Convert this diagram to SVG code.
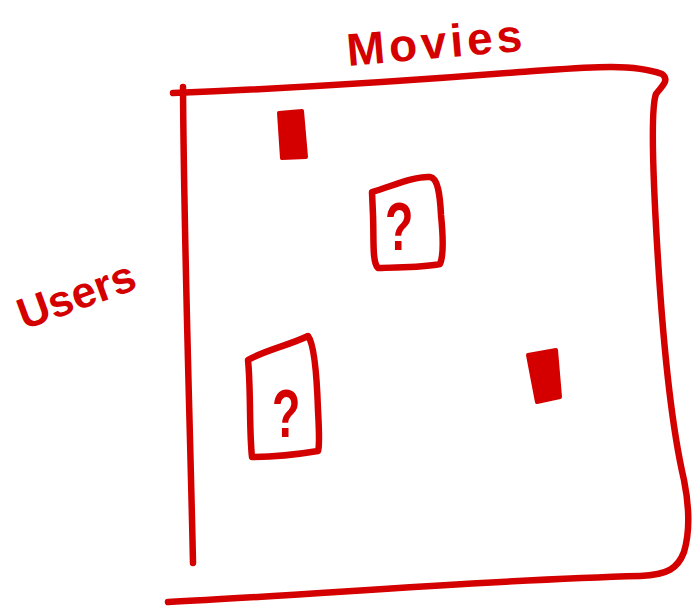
<svg xmlns="http://www.w3.org/2000/svg" width="692" height="608" viewBox="0 0 692 608">
<style>
.ink{fill:none;stroke:#d40000;stroke-width:6.5;stroke-linecap:round;stroke-linejoin:round}
.blob{fill:#d40000;stroke:#d40000;stroke-width:4;stroke-linejoin:round}
.hand{fill:#d40000;font-family:"Liberation Sans",Arial,sans-serif;font-weight:bold}
</style>
<rect width="692" height="608" fill="#fff"/>
<g id="labels">
<text class="hand" transform="translate(348,66) rotate(-5)" font-size="46" letter-spacing="4">Movies</text>
<text class="hand" transform="translate(24,330) rotate(-20)" font-size="44">Users</text>
</g>
<g id="frame">
<path class="ink" d="M183,87 C184,250 190,420 193,563"/>
<path class="ink" d="M173,93 C300,88 420,80 520,72 C580,68 630,62 662,74 C670,80 662,86 656,94 C650,110 653,180 658,260 C663,340 670,420 684,480 C690,510 689,535 684,552 C678,568 668,575 640,576 C480,580 300,596 168,602"/>
</g>
<g id="filled1"><path class="blob" d="M279,113 L302,111 L306,157 L282,158 Z"/></g>
<g id="filled2"><path class="blob" d="M528,355 L556,350 L560,397 L537,402 Z"/></g>
<g id="box1">
<path class="ink" d="M372,192 C395,185 415,176 430,177 C438,178 440,195 441,215 C443,235 444,255 440,264 C420,268 400,267 378,268 C372,262 374,240 373,215 Z"/>
<text class="hand" transform="translate(385,250) scale(0.75,1.1)" font-size="62" font-weight="normal">?</text>
</g>
<g id="box2">
<path class="ink" d="M248,360 C265,350 290,345 308,336 C315,345 317,380 318,410 C319,430 320,445 318,451 C300,454 270,457 252,457 C249,430 251,390 248,360 Z"/>
<text class="hand" transform="translate(272,437) scale(0.75,1.1)" font-size="62" font-weight="normal">?</text>
</g>
</svg>
